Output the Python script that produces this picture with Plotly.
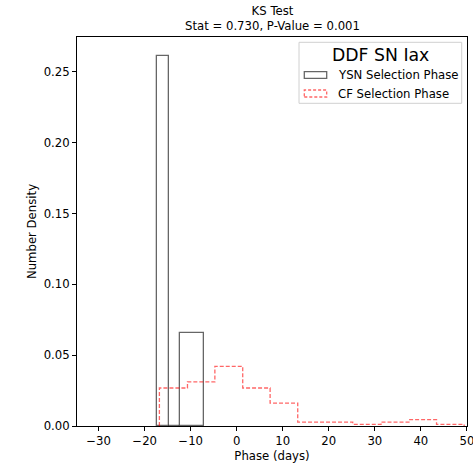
import plotly.graph_objects as go

# ---- data ----
ysn_edges = [-17.35, -14.75, -12.23, -7.09]
ysn_density = [0.261, 0.0, 0.0655]

cf_edges = [-16.8, -10.7, -4.75, 1.3, 7.25, 13.25, 19.2, 25.2, 31.35, 37.4, 43.4, 49.4]
cf_density = [0.0268, 0.0311, 0.0421, 0.0268, 0.0162, 0.0028, 0.0028, 0.0012, 0.0028, 0.0045, 0.0012]

x_ticks = [-30, -20, -10, 0, 10, 20, 30, 40, 50]
y_ticks = [0.00, 0.05, 0.10, 0.15, 0.20, 0.25]

title_lines = ["KS Test", "Stat = 0.730, P-Value = 0.001"]
legend_title = "DDF SN Iax"
series_names = ["YSN Selection Phase", "CF Selection Phase"]

YSN_COLOR = "rgba(0,0,0,0.6)"
CF_COLOR = "rgba(255,0,0,0.6)"
FONT = "DejaVu Sans"
FS = 11.7

fig = go.Figure()

# YSN histogram bars
centers = [(a + b) / 2 for a, b in zip(ysn_edges[:-1], ysn_edges[1:])]
widths = [b - a for a, b in zip(ysn_edges[:-1], ysn_edges[1:])]
fig.add_trace(go.Bar(
    x=centers, y=ysn_density, width=widths,
    marker=dict(color="rgba(0,0,0,0)", line=dict(color=YSN_COLOR, width=1.3)),
    showlegend=False, name=series_names[0],
))

# CF step histogram
sx, sy = [cf_edges[0]], [0]
for i, h in enumerate(cf_density):
    sx += [cf_edges[i], cf_edges[i + 1]]
    sy += [h, h]
sx.append(cf_edges[-1]); sy.append(0)
fig.add_trace(go.Scatter(
    x=sx, y=sy, mode="lines",
    line=dict(color=CF_COLOR, width=1.3, dash="4px,2px"),
    showlegend=False, name=series_names[1],
))

L, R, T, B = 77, 6, 37, 40
W, H = 473, 466
pw, ph = W - L - R, H - T - B

def px(x):
    return (x - L) / pw

def py(y):
    return (H - B - y) / ph

shapes = [
    dict(type="rect", xref="paper", yref="paper",
         x0=px(299), x1=px(461.7), y0=py(103.3), y1=py(42.3),
         line=dict(color="#d0d0d0", width=1), fillcolor="rgba(255,255,255,0.8)", layer="above"),
    dict(type="rect", xref="paper", yref="paper",
         x0=px(304.3), x1=px(326.7), y0=py(78.3), y1=py(71.7),
         line=dict(color=YSN_COLOR, width=1.3), fillcolor="rgba(0,0,0,0)", layer="above"),
    dict(type="rect", xref="paper", yref="paper",
         x0=px(304.3), x1=px(326.7), y0=py(97), y1=py(90),
         line=dict(color=CF_COLOR, width=1.3, dash="3px,2px"), fillcolor="rgba(0,0,0,0)", layer="above"),
]

annotations = [
    dict(text="<br>".join(title_lines), xref="paper", yref="paper", x=0.5, y=1,
         yanchor="bottom", xanchor="center", yshift=2, showarrow=False,
         font=dict(family=FONT, size=FS, color="black")),
    dict(text=legend_title, xref="paper", yref="paper", x=px(380.8), y=py(54.7),
         xanchor="center", yanchor="middle", showarrow=False,
         font=dict(family=FONT, size=17.3, color="black")),
    dict(text=series_names[0], xref="paper", yref="paper", x=px(335.5), y=py(75),
         xanchor="left", yanchor="middle", showarrow=False,
         font=dict(family=FONT, size=FS, color="black")),
    dict(text=series_names[1], xref="paper", yref="paper", x=px(335.5), y=py(93.5),
         xanchor="left", yanchor="middle", showarrow=False,
         font=dict(family=FONT, size=FS, color="black")),
]

axis_common = dict(
    showgrid=False, zeroline=False, showline=True, linecolor="black", linewidth=1,
    mirror=True, ticks="outside", ticklen=4, tickwidth=0.9, tickcolor="black",
    tickfont=dict(family=FONT, size=FS, color="black"), automargin=False,
    ticklabeloverflow="allow",
)

fig.update_layout(
    width=W, height=H,
    margin=dict(l=L, r=R, t=T, b=B),
    plot_bgcolor="white", paper_bgcolor="white",
    bargap=0,
    shapes=shapes, annotations=annotations,
    xaxis=dict(range=[-34.7, 50.02], tickvals=x_ticks, ticktext=[f"{v}".replace("-", "\u2212") for v in x_ticks],
               title=dict(text="Phase (days)", font=dict(family=FONT, size=FS, color="black"), standoff=4),
               **axis_common),
    yaxis=dict(range=[0, 0.2745], tickvals=y_ticks, ticktext=[f"{v:.2f}" for v in y_ticks],
               title=dict(text="Number Density", font=dict(family=FONT, size=FS, color="black"), standoff=4),
               **axis_common),
)

fig.write_html("out.html", config={"displayModeBar": False},
               post_script="document.body.style.margin='0';document.body.style.overflow='hidden';")
